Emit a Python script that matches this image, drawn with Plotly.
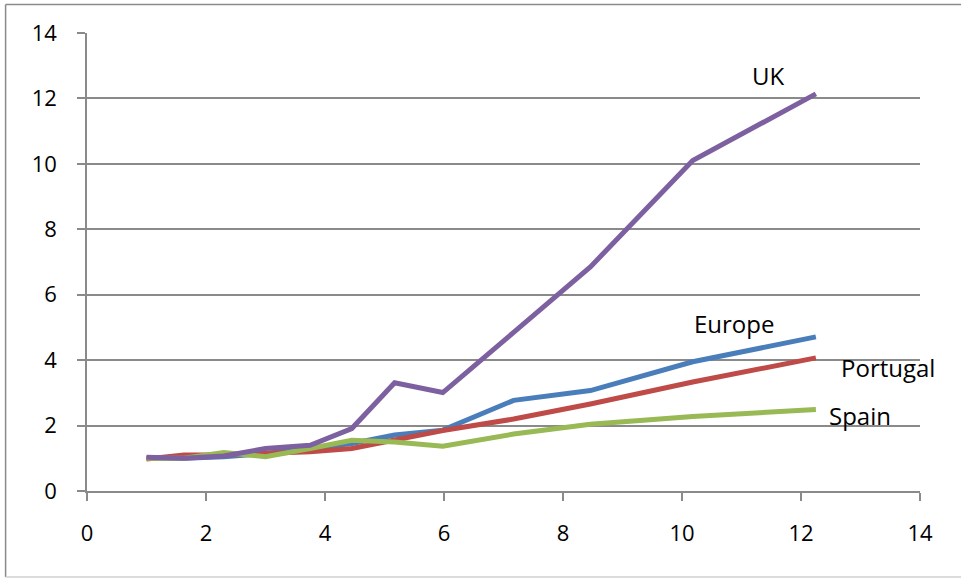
import plotly.graph_objects as go

x_vals = [1.0, 1.63, 2.3, 3.0, 3.75, 4.45, 5.17, 5.98, 7.17, 8.46, 10.18, 12.25]
europe = [1.0, 1.0, 1.05, 1.15, 1.3, 1.45, 1.71, 1.86, 2.77, 3.07, 3.95, 4.71]
portugal = [0.98, 1.1, 1.1, 1.15, 1.2, 1.3, 1.55, 1.85, 2.2, 2.66, 3.33, 4.07]
spain = [1.0, 1.0, 1.18, 1.05, 1.3, 1.55, 1.5, 1.37, 1.74, 2.04, 2.28, 2.49]
uk = [1.03, 1.0, 1.07, 1.3, 1.4, 1.91, 3.31, 3.01, 4.85, 6.85, 10.1, 12.14]

series_names = ["Europe", "Portugal", "Spain", "UK"]
series_values = [europe, portugal, spain, uk]
series_colors = ["#4A7EBB", "#BE4B48", "#98B954", "#7D60A0"]

label_texts = ["UK", "Europe", "Portugal", "Spain"]
label_x = [11.44, 10.87, 13.47, 12.99]
label_y = [12.7, 5.13, 3.76, 2.32]

axis_ticks = [0, 2, 4, 6, 8, 10, 12, 14]

fig = go.Figure()
for name, vals, col in zip(series_names, series_values, series_colors):
    fig.add_trace(go.Scatter(x=x_vals, y=vals, mode="lines", name=name,
                             line=dict(color=col, width=5), showlegend=False))

for t, lx, ly in zip(label_texts, label_x, label_y):
    fig.add_annotation(x=lx, y=ly, text=t, showarrow=False,
                       font=dict(family="Open Sans", size=24, color="#000000"))

grid_col = "#8a8a8a"
fig.update_xaxes(range=[0, 14], tickvals=axis_ticks, showgrid=False, zeroline=False,
                 showline=True, linecolor=grid_col, linewidth=1.5,
                 ticks="outside", ticklen=8, tickcolor=grid_col, tickwidth=1.5,
                 ticklabelstandoff=14,
                 tickfont=dict(family="Open Sans", size=22, color="#000000"))
fig.update_yaxes(range=[0, 14], tickvals=axis_ticks, showgrid=True, gridcolor=grid_col,
                 gridwidth=1.5, zeroline=False,
                 showline=True, linecolor=grid_col, linewidth=1.5,
                 ticks="outside", ticklen=8, tickcolor=grid_col, tickwidth=1.5,
                 ticklabelstandoff=16,
                 tickfont=dict(family="Open Sans", size=22, color="#000000"))

# outer chart border (pixel positions converted to paper coords)
pw, ph = 834.0, 458.5
def px(xp):
    return (xp - 86.5) / pw
def py(yp):
    return (491.0 - yp) / ph
border = "#8a8a8a"
fig.add_shape(type="line", xref="paper", yref="paper", x0=px(5), x1=px(5), y0=py(4), y1=py(577),
              line=dict(color=border, width=1.5))
fig.add_shape(type="line", xref="paper", yref="paper", x0=px(5), x1=px(962), y0=py(4), y1=py(4),
              line=dict(color=border, width=1.5))
fig.add_shape(type="line", xref="paper", yref="paper", x0=px(5), x1=px(962), y0=py(577), y1=py(577),
              line=dict(color="#d0d0d0", width=1.5))

fig.update_layout(width=961, height=578,
                  margin=dict(l=86.5, r=40.5, t=32.5, b=87),
                  paper_bgcolor="white", plot_bgcolor="white")

fig.write_html("out.html")
